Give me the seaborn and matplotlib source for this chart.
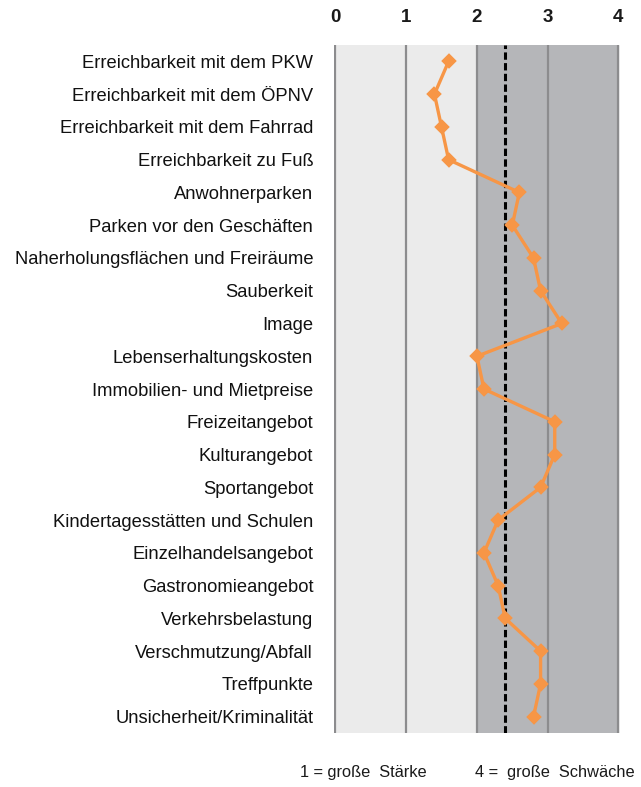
import numpy as np
import pandas as pd
import matplotlib
matplotlib.use("Agg")
import matplotlib.pyplot as plt
import seaborn as sb

items = ["Erreichbarkeit mit dem PKW", "Erreichbarkeit mit dem ÖPNV",
         "Erreichbarkeit mit dem Fahrrad", "Erreichbarkeit zu Fuß",
         "Anwohnerparken", "Parken vor den Geschäften",
         "Naherholungsflächen und Freiräume", "Sauberkeit", "Image",
         "Lebenserhaltungskosten", "Immobilien- und Mietpreise",
         "Freizeitangebot", "Kulturangebot", "Sportangebot",
         "Kindertagesstätten und Schulen", "Einzelhandelsangebot",
         "Gastronomieangebot", "Verkehrsbelastung", "Verschmutzung/Abfall",
         "Treffpunkte", "Unsicherheit/Kriminalität"]
scores = [1.6, 1.4, 1.5, 1.6, 2.6, 2.5, 2.8, 2.9, 3.2, 2.0, 2.1,
          3.1, 3.1, 2.9, 2.3, 2.1, 2.3, 2.4, 2.9, 2.9, 2.8]
mean_score = 2.4
x_ticks = [0, 1, 2, 3, 4]
note_left = "1 = große  Stärke"
note_right = "4 =  große  Schwäche"

df = pd.DataFrame({"item": items, "score": scores})

sb.set_style("white")
plt.rcParams['font.family'] = ['Liberation Sans', 'DejaVu Sans']

fig = plt.figure(figsize=(6.41, 7.87), dpi=100)
ax = fig.add_axes([0.521, 0.0686, 0.446, 0.8742])

# background bands
ax.axvspan(0, 2, color="#ebebeb", zorder=0)
ax.axvspan(2, 4, color="#b5b6b9", zorder=0)
for xv in x_ticks:
    ax.axvline(xv, color="#8c8c8e", lw=1.6, zorder=1)

sb.pointplot(data=df, x="score", y="item", orient="h", color="#f79646",
             markers="D", markersize=6, linewidth=2.4, ax=ax, zorder=4)

ax.axvline(mean_score, color="black", lw=2.2, ls=(0, (2.4, 1.1)), zorder=3)

ax.set_xlim(-0.02, 4.02)
ax.set_ylim(len(items) - 0.5, -0.5)
ax.set_xticks(x_ticks)
ax.xaxis.tick_top()
ax.tick_params(axis="x", length=0, pad=14, labelsize=13.5)
for lbl in ax.get_xticklabels():
    lbl.set_fontweight("bold")
    lbl.set_color("#1a1a1a")
ax.tick_params(axis="y", length=0, pad=15, labelsize=13.2, labelcolor="#111111")
ax.set_xlabel("")
ax.set_ylabel("")
for s in ax.spines.values():
    s.set_visible(False)

fig.text(300 / 641, 1 - 773 / 787, note_left, fontsize=11.8, color="#1a1a1a",
         va="center", ha="left")
fig.text(475 / 641, 1 - 773 / 787, note_right, fontsize=11.8, color="#1a1a1a",
         va="center", ha="left")

fig.savefig("out.png", dpi=100)
